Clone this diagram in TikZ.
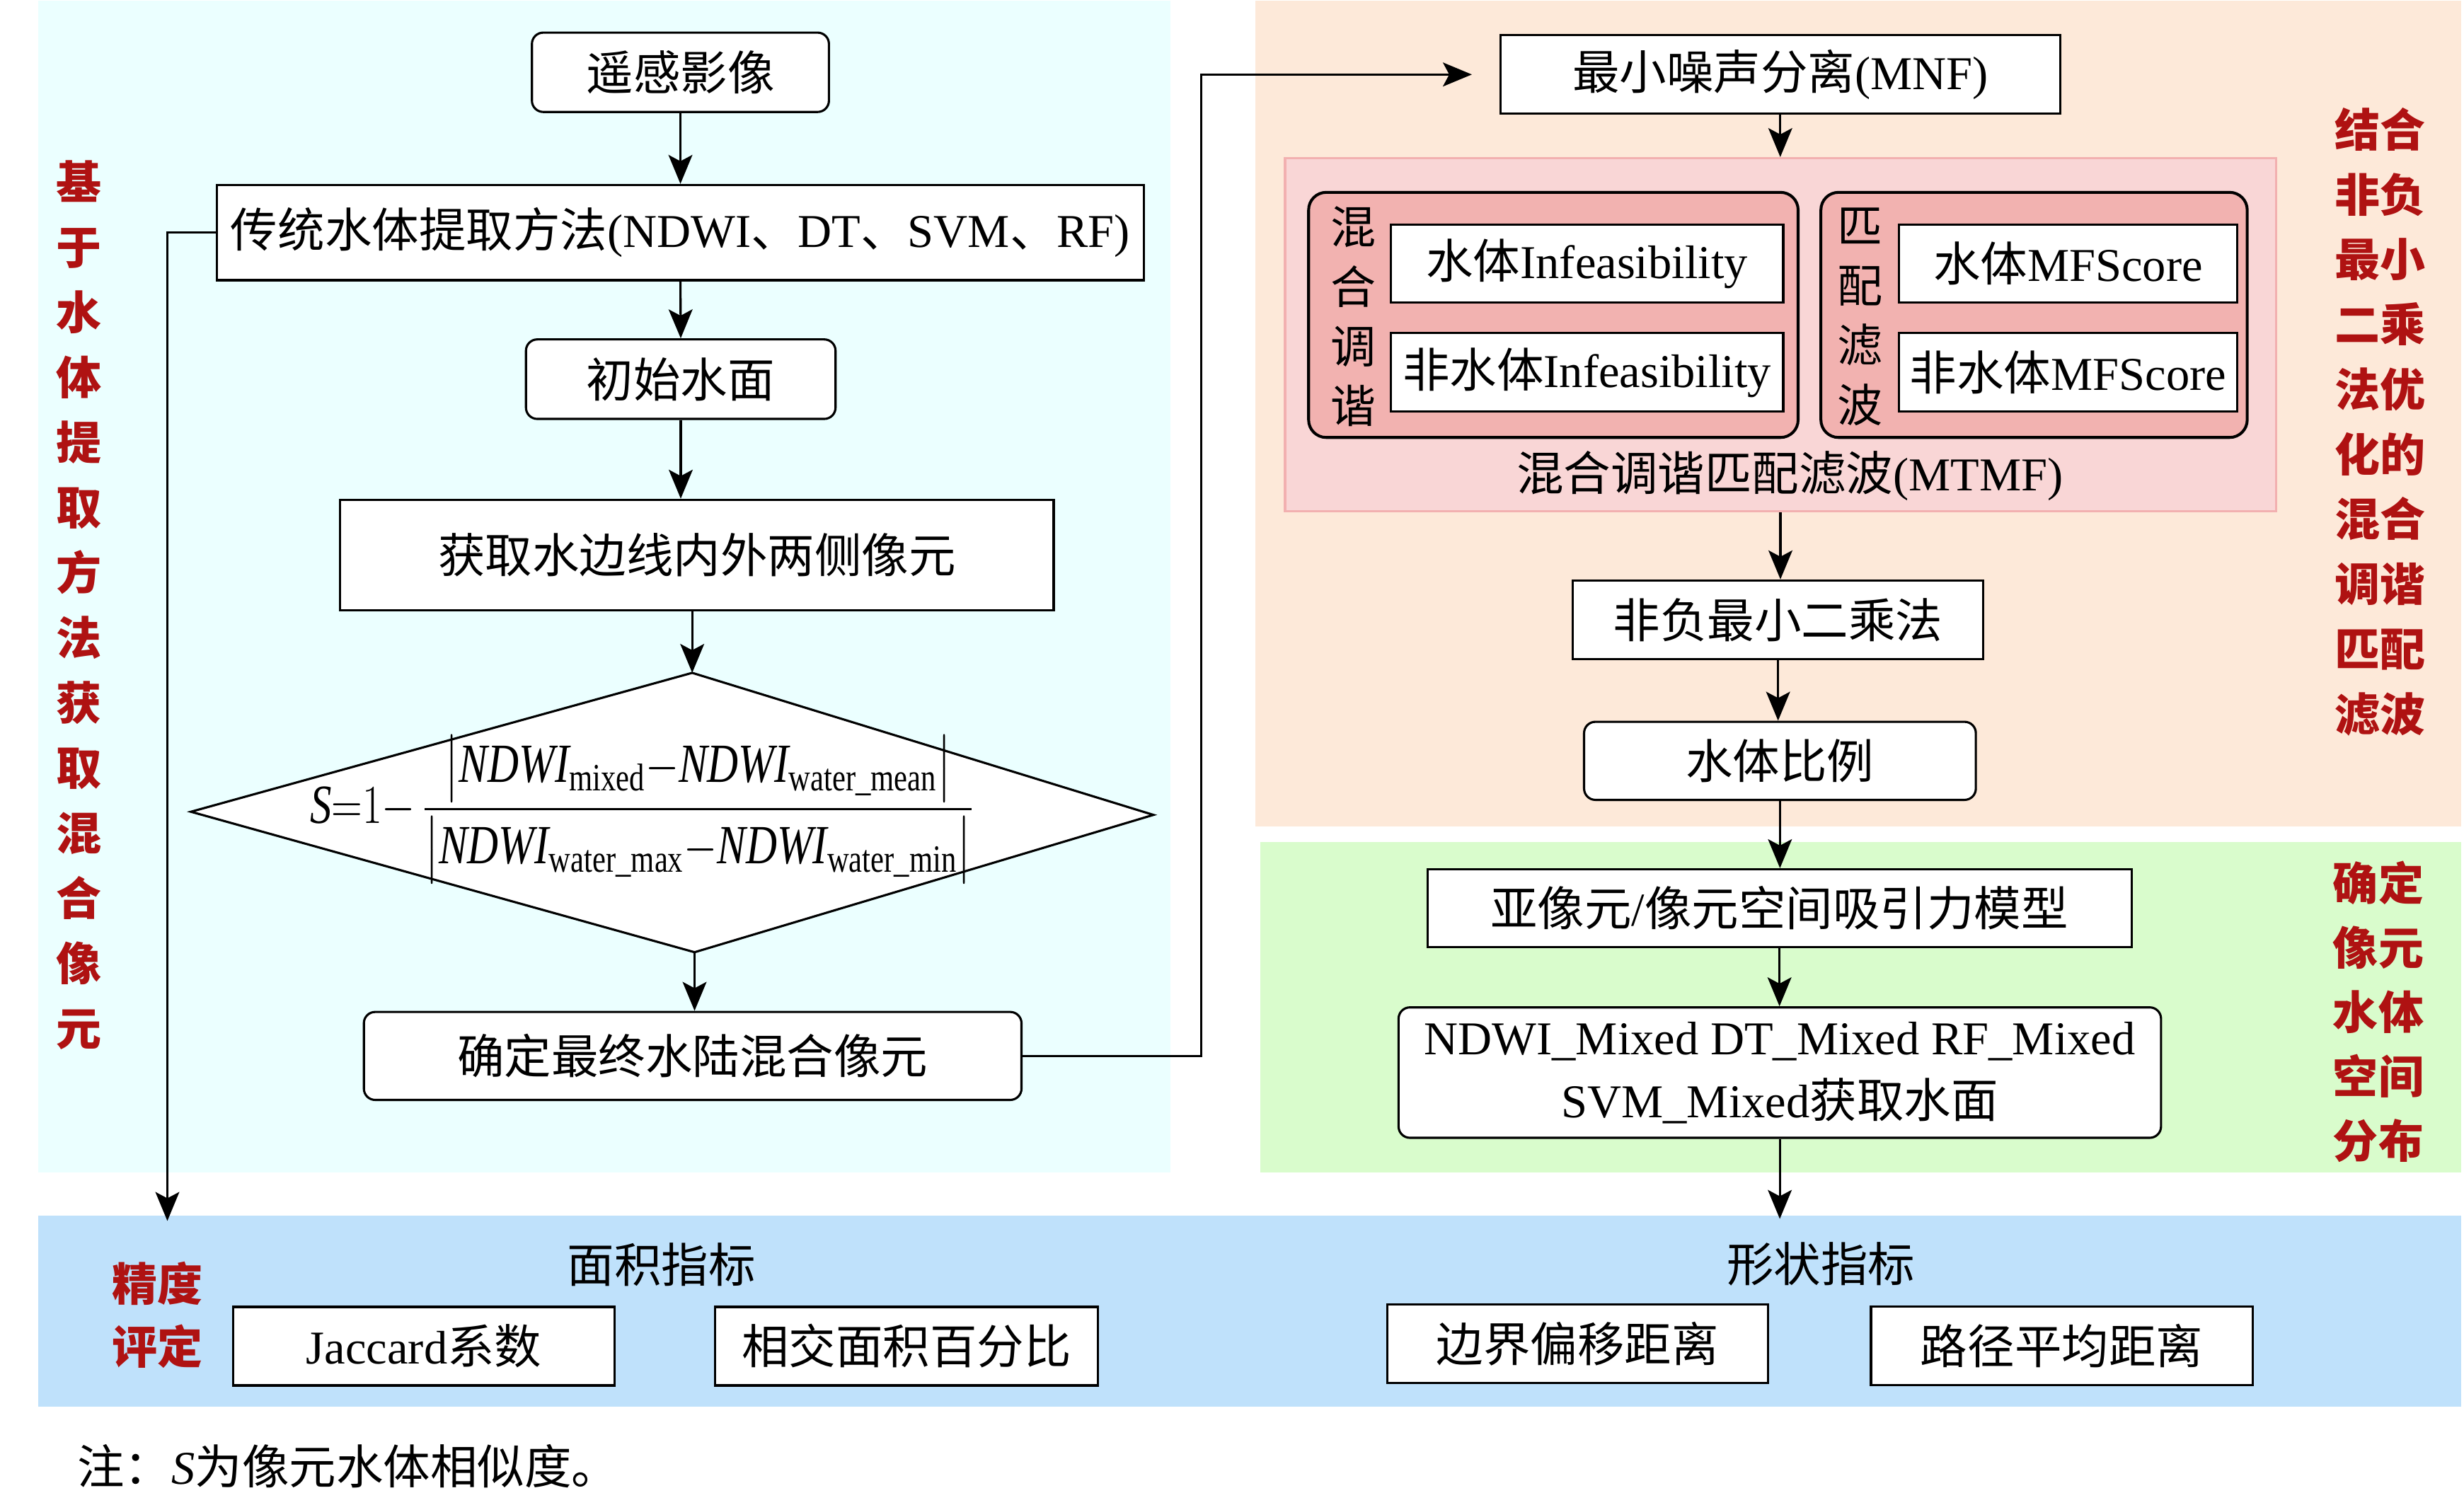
\documentclass[tikz,border=0pt]{standalone}
\usepackage{fontspec}
\usepackage{amsmath}
\usepackage{graphicx}
\setmainfont{Liberation Serif}
\newfontfamily\cjk{Noto Sans CJK SC}
\usetikzlibrary{arrows.meta}
\definecolor{cyanbg}{RGB}{235,255,255}
\definecolor{peachbg}{RGB}{253,233,217}
\definecolor{greenbg}{RGB}{217,252,204}
\definecolor{bluebg}{RGB}{191,225,251}
\definecolor{pinkbg}{RGB}{249,214,214}
\definecolor{pinkline}{RGB}{242,176,176}
\definecolor{salmon}{RGB}{242,178,176}
\definecolor{darkred}{RGB}{175,18,18}
\def\ux{0.025cm}
\newcommand\zh[1]{{\cjk #1}}
\tikzset{
  base/.style={font=\fontsize{21.3}{25}\selectfont},
  sz/.style 2 args={minimum width=#1*\ux, minimum height=#2*\ux},
  box/.style={draw, line width=1pt, fill=white, inner sep=0pt, base},
  rbox/.style={box, rounded corners=0.18cm},
  grp/.style={draw, line width=1.3pt, fill=salmon, rounded corners=0.28cm, inner sep=0pt},
  arr/.style={line width=1pt, -{Stealth[length=0.46cm, width=0.38cm, inset=0.1cm]}},
  lbl/.style={base, inner sep=0pt},
  redv/.style={text=darkred, align=center, inner sep=0pt},
  blackv/.style={align=center, inner sep=0pt, font=\fontsize{20.5}{0.95cm}\selectfont\cjk},
}
\begin{document}
\begin{tikzpicture}[x=\ux, y=-\ux]
\useasboundingbox (0,0) rectangle (1568,950);
% panels
\fill[cyanbg] (24.4,0.5) rectangle (745,746);
\fill[peachbg] (799,0.5) rectangle (1566,526);
\fill[greenbg] (802,536) rectangle (1566,746);
\fill[bluebg] (24.4,773.7) rectangle (1566,895);

% left column
\node[rbox, sz={189}{50.5}] (rs) at (433,46) {\zh{遥感影像}};
\node[box, sz={590}{60.6}] (trad) at (433,148) {\zh{传统水体提取方法}(NDWI\zh{、}DT\zh{、}SVM\zh{、}RF)};
\node[rbox, sz={197}{50.6}] (init) at (433.2,241.3) {\zh{初始水面}};
\node[box, sz={454}{70.3}] (edge) at (443.5,353.2) {\zh{获取水边线内外两侧像元}};
\coordinate (dl) at (121.5,516.6);
\coordinate (dt) at (440.5,428.2);
\coordinate (dr) at (734,518.6);
\coordinate (db) at (442,606);
\filldraw[fill=white, line width=1pt, line join=miter] (dl) -- (dt) -- (dr) -- (db) -- cycle;
\node[inner sep=0pt, anchor=west] (formula) at (197,515) {\scalebox{0.78}[1]{\fontsize{25}{30}\selectfont
 $\mathit{S}{=}1{-}\,\dfrac{\bigl|\mathit{NDWI}_{\text{mixed}}{-}\mathit{NDWI}_{\text{water\_mean}}\bigr|}{\bigl|\mathit{NDWI}_{\text{water\_max}}{-}\mathit{NDWI}_{\text{water\_min}}\bigr|}$}};
\node[rbox, sz={418.5}{56}] (final) at (440.8,672) {\zh{确定最终水陆混合像元}};

% red vertical labels
\node[redv, font=\fontsize{20.5}{1.035cm}\selectfont\cjk\bfseries] (vl) at (50.3,385)
  {基\\于\\水\\体\\提\\取\\方\\法\\获\\取\\混\\合\\像\\元};
\node[redv, font=\fontsize{20.5}{1.0325cm}\selectfont\cjk\bfseries] (vr1) at (1514.5,268.4)
  {结合\\非负\\最小\\二乘\\法优\\化的\\混合\\调谐\\匹配\\滤波};
\node[redv, font=\fontsize{20.5}{1.025cm}\selectfont\cjk\bfseries] (vr2) at (1513.5,644)
  {确定\\像元\\水体\\空间\\分布};
\node[redv, font=\fontsize{20.5}{1cm}\selectfont\cjk\bfseries] (acc) at (100,837)
  {精度\\评定};

% right column
\node[box, sz={356.3}{50}] (mnf) at (1132.9,47.4) {\zh{最小噪声分离}(MNF)};
\node[draw=pinkline, fill=pinkbg, line width=1pt, inner sep=0pt, sz={630.5}{224.7}] (mtmf) at (1133,213) {};
\node[grp, sz={311.5}{156}] (gl) at (988.5,200.4) {};
\node[grp, sz={271.3}{156}] (gr) at (1294.4,200.4) {};
\node[blackv] (vt1) at (861,201.5) {混\\合\\调\\谐};
\node[blackv] (vt2) at (1183.6,201.5) {匹\\配\\滤\\波};
\node[box, sz={249.8}{49.3}] (inf1) at (1009.9,167.7) {\zh{水体}Infeasibility};
\node[box, sz={249.8}{50}] (inf2) at (1009.9,237) {\zh{非水体}Infeasibility};
\node[box, sz={215}{49.3}] (mf1) at (1316,167.7) {\zh{水体}MFScore};
\node[box, sz={215}{50}] (mf2) at (1316,237) {\zh{非水体}MFScore};
\node[lbl] (mtmflbl) at (1139,303) {\zh{混合调谐匹配滤波}(MTMF)};
\node[box, sz={261}{50}] (nnls) at (1131.5,394.4) {\zh{非负最小二乘法}};
\node[rbox, sz={249.3}{49.7}] (ratio) at (1132.7,484.2) {\zh{水体比例}};
\node[box, sz={448}{49.6}] (attract) at (1132.4,578) {\zh{亚像元}/\zh{像元空间吸引力模型}};
\node[rbox, sz={485.2}{83}, align=center, font=\fontsize{21.3}{1cm}\selectfont] (mixed) at (1132.6,682.6)
  {NDWI\_Mixed DT\_Mixed RF\_Mixed\\SVM\_Mixed\zh{获取水面}};

% bottom panel
\node[lbl] (area) at (421,805) {\zh{面积指标}};
\node[lbl] (shape) at (1158.8,804.6) {\zh{形状指标}};
\node[box, sz={242.5}{50}] (jac) at (269.8,856.7) {Jaccard\zh{系数}};
\node[box, sz={243.5}{50}] (inter) at (576.8,856.7) {\zh{相交面积百分比}};
\node[box, sz={242.3}{50}] (bound) at (1003.8,855) {\zh{边界偏移距离}};
\node[box, sz={242.8}{50}] (pathd) at (1312,856.5) {\zh{路径平均距离}};
\node[lbl, anchor=west] (note) at (49,933) {\zh{注：}\textit{S}\zh{为像元水体相似度。}};

% connectors
\draw[arr] (rs.south) -- (trad.north);
\draw[arr] (trad.south) -- (init.north);
\draw[arr] (init.south) -- (init.south |- edge.north);
\draw[arr] (dt |- edge.south) -- (dt);
\draw[arr] (db) -- (db |- final.north);
\coordinate (turn) at (764.3,47.4);
\draw[arr, shorten >=0.435cm] (final.east) -| (turn) -- (mnf.west);
\coordinate (fb) at (106.5,777);
\draw[arr] (trad.west) -| (fb);
\draw[arr] (mnf.south) -- (mnf.south |- mtmf.north);
\draw[arr] (mtmf.south) -- (mtmf.south |- nnls.north);
\draw[arr] (nnls.south) -- (nnls.south |- ratio.north);
\draw[arr] (ratio.south) -- (ratio.south |- attract.north);
\draw[arr] (attract.south) -- (attract.south |- mixed.north);
\coordinate (mout) at (1132.6,775.7);
\draw[arr] (mixed.south) -- (mout);
\end{tikzpicture}
\end{document}
